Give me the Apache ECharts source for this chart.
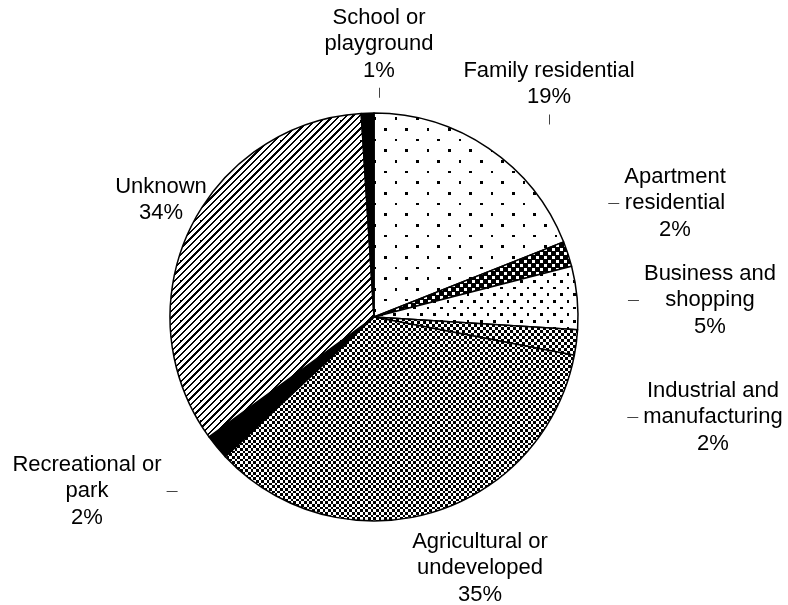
<!DOCTYPE html>
<html>
<head>
<meta charset="utf-8">
<script src="https://cdn.jsdelivr.net/npm/echarts@6/dist/echarts.min.js"></script>
<style>
  html, body { margin: 0; padding: 0; background: #fff; }
  #chart { width: 788px; height: 605px; }
</style>
</head>
<body>
<div id="chart"></div>
<script>
// data, clockwise from 12 o'clock
const categories = ['Family residential', 'Apartment residential', 'Business and shopping',
  'Industrial and manufacturing', 'Agricultural or undeveloped', 'Recreational or park',
  'Unknown', 'School or playground'];
const shares = [19, 2, 5, 2, 35, 2, 34, 1];
const labelText = ['Family residential', 'Apartment\nresidential', 'Business and\nshopping',
  'Industrial and\nmanufacturing', 'Agricultural or\nundeveloped', 'Recreational or\npark',
  'Unknown', 'School or\nplayground'];

// label placement (centre of text block) and which side the little tick sits on
const labelAt = [[549, 84], [675, 203], [710, 300], [713, 417], [480, 568], [87, 491], [161, 200], [379, 44]];
const tickSide = ['below', 'left', 'left', 'left', null, 'right', null, 'below'];

// --- fill patterns (black & white like the print original)
function tile(size, bg, fg, paint) {
  const c = document.createElement('canvas');
  c.width = c.height = size;
  const ctx = c.getContext('2d');
  ctx.fillStyle = bg;
  ctx.fillRect(0, 0, size, size);
  ctx.fillStyle = fg;
  paint(ctx, size);
  return c;
}
// staggered dot grid
function dots(size, period, dot, bg, fg) {
  return tile(size, bg, fg, (ctx) => {
    const n = Math.round(size / period);
    for (let i = 0; i < n; i++) {
      for (let j = 0; j < n; j++) {
        [[0, 0], [0.5, 0.5]].forEach(([ox, oy]) => {
          const x0 = Math.round((i + ox) * period), y0 = Math.round((j + oy) * period);
          const x1 = Math.round((i + ox) * period + dot), y1 = Math.round((j + oy) * period + dot);
          ctx.fillRect(x0, y0, x1 - x0, y1 - y0);
        });
      }
    }
  });
}
function checker(size, cell) {
  return tile(size, '#fff', '#000', (ctx) => {
    const n = Math.round(size / cell);
    for (let i = 0; i < n; i++) {
      for (let j = 0; j < n; j++) {
        if ((i + j) % 2) continue;
        const x0 = Math.round(i * cell), y0 = Math.round(j * cell);
        ctx.fillRect(x0, y0, Math.round((i + 1) * cell) - x0, Math.round((j + 1) * cell) - y0);
      }
    }
  });
}
function diagonal(size, period, part) {
  return tile(size, '#fff', '#000', (ctx) => {
    for (let x = 0; x < size; x++) {
      for (let y = 0; y < size; y++) {
        const f = ((x + y) % period) / period;
        if (f < part) ctx.fillRect(x, y, 1, 1);
      }
    }
  });
}
const pat = (img) => ({ image: img, repeat: 'repeat' });
const fills = [
  pat(dots(64, 64 / 3, 8 / 3, '#fff', '#000')),   // family
  pat(dots(24, 8, 8 / 3, '#000', '#fff')),        // apartment
  pat(dots(40, 40 / 3, 8 / 3, '#fff', '#000')),   // business
  pat(checker(6, 3)),                             // industrial
  pat(checker(16, 8 / 3)),                        // agricultural
  '#000',                                         // recreational
  pat(diagonal(20, 20 / 3, 0.38)),                // unknown
  '#000'                                          // school
];

const myChart = echarts.init(document.getElementById('chart'));
const option = {
  animation: false,
  series: [{
    type: 'pie',
    center: [374, 317],
    radius: 204,
    startAngle: 90,
    clockwise: true,
    avoidLabelOverlap: false,
    itemStyle: { borderColor: '#000', borderWidth: 1.5 },
    label: {
      show: true,
      position: 'outside',
      overflow: 'none',
      color: '#000',
      fontFamily: 'Liberation Sans, Arial, sans-serif',
      fontSize: 22,
      lineHeight: 26.5,
      align: 'center',
      formatter: (p) => labelText[p.dataIndex] + '\n' + Math.round(p.percent) + '%'
    },
    labelLine: { show: true, lineStyle: { color: '#444', width: 1 } },
    labelLayout: (p) => {
      const [cx, cy] = labelAt[p.dataIndex];
      const w = p.labelRect.width, h = p.labelRect.height;
      let pts = [[cx, cy], [cx, cy]];
      const side = tickSide[p.dataIndex];
      if (side === 'below') {
        const x = Math.round(cx) + 0.5, y0 = cy + h / 2 + 4;
        pts = [[x, y0], [x, y0 + 10]];
      } else if (side === 'left') {
        const x1 = cx - w / 2 - 5, y = Math.round(cy) + 0.5;
        pts = [[x1 - 11, y], [x1, y]];
      } else if (side === 'right') {
        const x0 = cx + w / 2 + 5, y = Math.round(cy) + 0.5;
        pts = [[x0, y], [x0 + 11, y]];
      }
      return { x: cx, y: cy, align: 'center', verticalAlign: 'middle', labelLinePoints: pts };
    },
    emphasis: { disabled: true },
    data: categories.map((name, i) => ({ name: name, value: shares[i], itemStyle: { color: fills[i] } }))
  }]
};
myChart.setOption(option);
</script>
</body>
</html>
